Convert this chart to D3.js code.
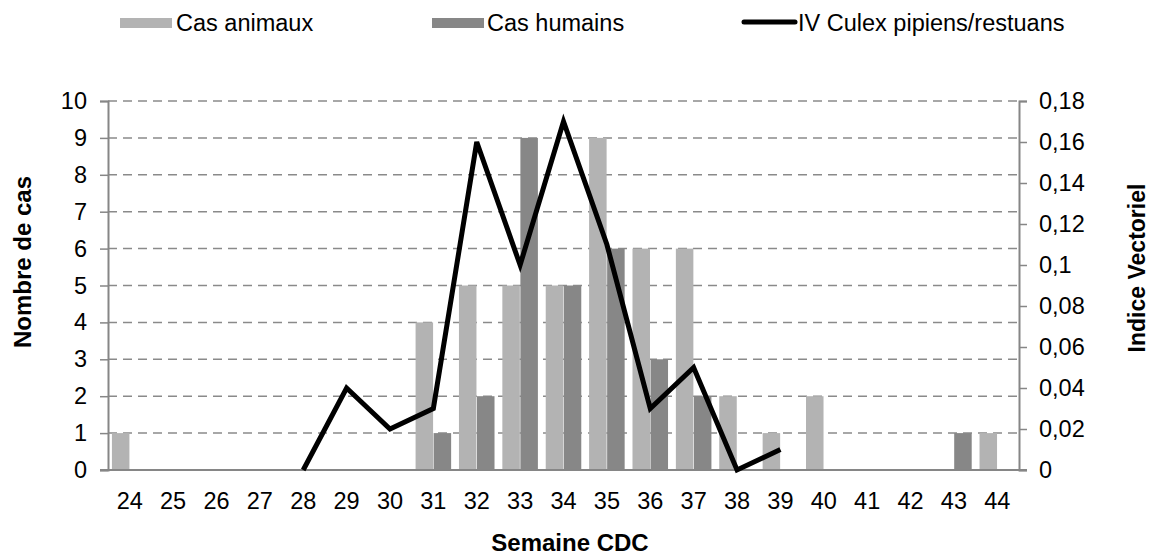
<!DOCTYPE html>
<html>
<head>
<meta charset="utf-8">
<script src="https://cdn.jsdelivr.net/npm/d3@7"></script>
<style>
  body { margin: 0; background: #fff; }
  svg { font-family: "Liberation Sans", Arial, Helvetica, sans-serif; }
  .tick-label { font-size: 23.5px; fill: #000; }
  .axis-title { font-size: 24px; font-weight: bold; fill: #000; }
</style>
</head>
<body>
<div id="chart"></div>
<script>
// semaines CDC
var weeks = [24, 25, 26, 27, 28, 29, 30, 31, 32, 33, 34, 35, 36, 37, 38, 39, 40, 41, 42, 43, 44];
var casAnimaux = [1, 0, 0, 0, 0, 0, 0, 4, 5, 5, 5, 9, 6, 6, 2, 1, 2, 0, 0, 0, 1];
var casHumains = [0, 0, 0, 0, 0, 0, 0, 1, 2, 9, 5, 6, 3, 2, 0, 0, 0, 0, 0, 1, 0];
// indice vectoriel (null = pas de donnée)
var ivCulex = [null, null, null, null, 0, 0.04, 0.02, 0.03, 0.16, 0.10, 0.17, 0.11, 0.03, 0.05, 0, 0.01, null, null, null, null, null];
var leftTicks = [0, 1, 2, 3, 4, 5, 6, 7, 8, 9, 10];
var rightTicks = [0, 0.02, 0.04, 0.06, 0.08, 0.1, 0.12, 0.14, 0.16, 0.18];
var seriesNames = ["Cas animaux", "Cas humains", "IV Culex pipiens/restuans"];

var width = 1150, height = 558;
var plotLeft = 108, plotRight = 1019, plotTop = 101, plotBottom = 470;
var colAnimaux = "#b3b3b3", colHumains = "#878787", axisCol = "#868686";

var svg = d3.select("#chart").append("svg")
    .attr("width", width)
    .attr("height", height);

var x = d3.scaleBand().domain(weeks).range([plotLeft, plotRight]).padding(0);
var xs = d3.scaleBand().domain(["a", "h"]).range([0, x.bandwidth()])
    .paddingInner(0.03).paddingOuter(0.217);
var y = d3.scaleLinear().domain([0, 10]).range([plotBottom, plotTop]);
var y2 = d3.scaleLinear().domain([0, 0.18]).range([plotBottom, plotTop]);

// gridlines
svg.append("g")
    .selectAll("line")
    .data(leftTicks.filter(function(d){ return d > 0; }))
    .enter().append("line")
    .attr("x1", plotLeft).attr("x2", plotRight)
    .attr("y1", function(d){ return y(d); })
    .attr("y2", function(d){ return y(d); })
    .attr("stroke", "#8a8a8a")
    .attr("stroke-width", 1.5)
    .attr("stroke-dasharray", "9,6");

// bars
var rows = weeks.map(function(w, i){ return {w: w, a: casAnimaux[i], h: casHumains[i]}; });

svg.append("g").selectAll("rect")
    .data(rows.filter(function(d){ return d.a > 0; }))
    .enter().append("rect")
    .attr("x", function(d){ return x(d.w) + xs("a"); })
    .attr("width", xs.bandwidth())
    .attr("y", function(d){ return y(d.a); })
    .attr("height", function(d){ return plotBottom - y(d.a); })
    .attr("fill", colAnimaux);

svg.append("g").selectAll("rect")
    .data(rows.filter(function(d){ return d.h > 0; }))
    .enter().append("rect")
    .attr("x", function(d){ return x(d.w) + xs("h"); })
    .attr("width", xs.bandwidth())
    .attr("y", function(d){ return y(d.h); })
    .attr("height", function(d){ return plotBottom - y(d.h); })
    .attr("fill", colHumains);

// axes
var leftAxis = svg.append("g").attr("transform", "translate(" + plotLeft + ",0)")
    .call(d3.axisLeft(y).tickValues(leftTicks).tickSize(8).tickPadding(13));
var rightAxis = svg.append("g").attr("transform", "translate(" + plotRight + ",0)")
    .call(d3.axisRight(y2).tickValues(rightTicks).tickSize(8).tickPadding(12)
        .tickFormat(function(d){ return String(+d.toFixed(2)).replace(".", ","); }));
var bottomAxis = svg.append("g").attr("transform", "translate(0," + plotBottom + ")")
    .call(d3.axisBottom(x).tickSize(0).tickPadding(22).tickSizeOuter(0));

[leftAxis, rightAxis, bottomAxis].forEach(function(a){
    a.select(".domain").attr("stroke", axisCol).attr("stroke-width", 2);
    a.selectAll(".tick line").attr("stroke", axisCol).attr("stroke-width", 1.5);
    a.selectAll(".tick text").attr("class", "tick-label");
    a.attr("font-size", null).attr("font-family", null);
});
bottomAxis.select(".domain").attr("d", "M" + (plotLeft - 8) + ",0H" + (plotRight + 8));

// line IV
var line = d3.line()
    .defined(function(d){ return d.v !== null; })
    .x(function(d){ return x(d.w) + x.bandwidth() / 2; })
    .y(function(d){ return y2(d.v); });

svg.append("path")
    .datum(weeks.map(function(w, i){ return {w: w, v: ivCulex[i]}; }))
    .attr("d", line)
    .attr("fill", "none")
    .attr("stroke", "#000")
    .attr("stroke-width", 5);

// axis titles
svg.append("text").attr("class", "axis-title")
    .attr("transform", "translate(31,262) rotate(-90)")
    .attr("text-anchor", "middle")
    .text("Nombre de cas");
svg.append("text").attr("class", "axis-title")
    .attr("transform", "translate(1145,268) rotate(-90)")
    .attr("text-anchor", "middle")
    .style("font-size", "23px")
    .text("Indice Vectoriel");
svg.append("text").attr("class", "axis-title")
    .attr("x", 570).attr("y", 551)
    .attr("text-anchor", "middle")
    .text("Semaine CDC");

// legend
var legend = svg.append("g").attr("class", "legend");
legend.append("rect").attr("x", 120).attr("y", 18).attr("width", 52).attr("height", 10).attr("fill", colAnimaux);
legend.append("text").attr("class", "tick-label").attr("x", 176).attr("y", 31).text(seriesNames[0]);
legend.append("rect").attr("x", 432).attr("y", 18).attr("width", 52).attr("height", 10).attr("fill", colHumains);
legend.append("text").attr("class", "tick-label").attr("x", 487).attr("y", 31).text(seriesNames[1]);
legend.append("line").attr("x1", 744).attr("x2", 795).attr("y1", 22).attr("y2", 22)
    .attr("stroke", "#000").attr("stroke-width", 5).attr("stroke-linecap", "round");
legend.append("text").attr("class", "tick-label").attr("x", 798).attr("y", 31).text(seriesNames[2]);
</script>
</body>
</html>
